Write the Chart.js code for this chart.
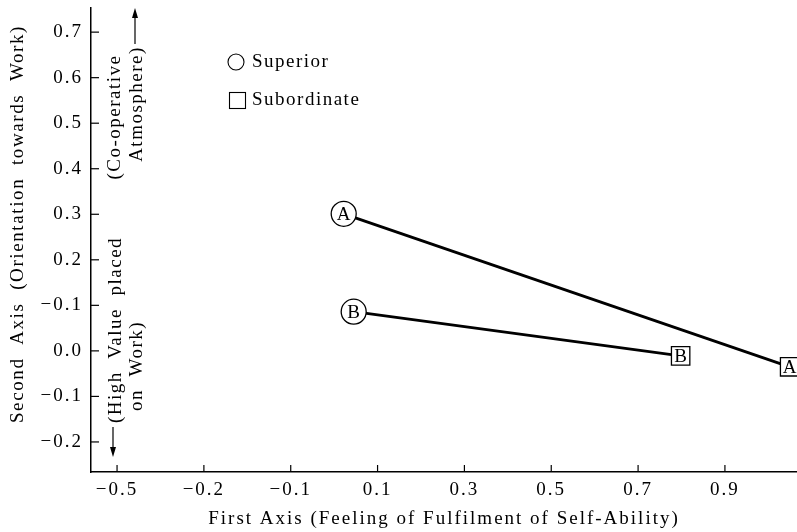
<!DOCTYPE html>
<html>
<head>
<meta charset="utf-8">
<script src="https://cdn.jsdelivr.net/npm/chart.js@4.4.0/dist/chart.umd.min.js"></script>
<style>
  html, body { margin: 0; padding: 0; background: #fff; }
  #wrap { width: 797px; height: 532px; }
</style>
</head>
<body>
<div id="wrap"><canvas id="myChart" width="797" height="532"></canvas></div>
<script>
const FONT = '"Liberation Serif", "DejaVu Serif", serif';

// data
const groups = ["A", "B"];
const superiorX = [0.022, 0.045];
const superiorY = [0.301, 0.086];
const subordinateX = [1.049, 0.798];
const subordinateY = [-0.035, -0.011];

// tick positions and the labels printed on them (as in the original print)
const xTicks = [-0.5, -0.3, -0.1, 0.1, 0.3, 0.5, 0.7, 0.9];
const xTickLabels = ["\u22120.5", "\u22120.2", "\u22120.1", "0.1", "0.3", "0.5", "0.7", "0.9"];
const yTicks = [-0.2, -0.1, 0.0, 0.1, 0.2, 0.3, 0.4, 0.5, 0.6, 0.7];
const yTickLabels = ["\u22120.2", "\u22120.1", "0.0", "\u22120.1", "0.2", "0.3", "0.4", "0.5", "0.6", "0.7"];

const ctx = document.getElementById("myChart").getContext("2d");

const datasets = groups.map((g, i) => ({
  label: g,
  data: [
    { x: superiorX[i], y: superiorY[i] },
    { x: subordinateX[i], y: subordinateY[i] },
  ],
  borderColor: "#000",
  borderWidth: 2.8,
  pointStyle: ["circle", "rect"],
  pointRadius: [12.5, 13],
  pointBackgroundColor: "#fff",
  pointBorderColor: "#000",
  pointBorderWidth: 1.3,
  clip: false,
}));

function spacedText(c, text, x, y, spacing) {
  c.letterSpacing = spacing + "px";
  c.fillText(text, x, y);
  c.letterSpacing = "0px";
}

// tick labels get no extra room: plot box is fixed
const noPad = (s) => {
  s.paddingLeft = s.paddingRight = s.paddingTop = s.paddingBottom = 0;
};

const extras = {
  id: "extras",
  beforeDraw(chart) {
    chart.ctx.letterSpacing = "2px";
  },
  afterDraw(chart) {
    const c = chart.ctx;
    const { x, y } = chart.scales;
    const area = chart.chartArea;
    c.save();
    c.letterSpacing = "0px";
    c.strokeStyle = "#000";
    c.lineWidth = 1.2;
    // inward tick marks
    xTicks.forEach((v) => {
      const px = x.getPixelForValue(v);
      c.beginPath();
      c.moveTo(px, area.bottom);
      c.lineTo(px, area.bottom - 7);
      c.stroke();
    });
    yTicks.forEach((v) => {
      const py = y.getPixelForValue(v);
      c.beginPath();
      c.moveTo(area.left, py);
      c.lineTo(area.left + 8, py);
      c.stroke();
    });

    // letters inside the markers
    c.fillStyle = "#000";
    c.font = "19px " + FONT;
    c.textAlign = "center";
    c.textBaseline = "middle";
    chart.data.datasets.forEach((ds, i) => {
      chart.getDatasetMeta(i).data.forEach((pt) => {
        c.fillText(ds.label, pt.x, pt.y + 1);
      });
    });

    // legend
    c.lineWidth = 1.1;
    c.beginPath();
    c.arc(236, 62, 8, 0, Math.PI * 2);
    c.stroke();
    c.strokeRect(229.5, 92.5, 16, 16);
    c.font = "19px " + FONT;
    c.textAlign = "left";
    spacedText(c, "Superior", 252, 62, 1.5);
    spacedText(c, "Subordinate", 252, 100, 1.5);

    // y axis title
    c.save();
    c.translate(18, 224);
    c.rotate(-Math.PI / 2);
    c.textAlign = "center";
    spacedText(c, "Second  Axis  (Orientation  towards  Work)", 0, 0, 1.6);
    c.restore();

    // rotated side notes
    const note = (text, cx, cy) => {
      c.save();
      c.translate(cx, cy);
      c.rotate(-Math.PI / 2);
      c.textAlign = "center";
      spacedText(c, text, 0, 0, 1.5);
      c.restore();
    };
    note("(Co-operative", 115, 117);
    note("Atmosphere)", 137, 104);
    note("(High  Value  placed", 116, 330);
    note("on  Work)", 137, 366);

    // arrows
    c.lineWidth = 1.2;
    c.beginPath();
    c.moveTo(135, 44);
    c.lineTo(135, 12);
    c.stroke();
    c.beginPath();
    c.moveTo(135, 8);
    c.lineTo(132, 18);
    c.lineTo(138, 18);
    c.closePath();
    c.fill();
    c.beginPath();
    c.moveTo(113, 427);
    c.lineTo(113, 452);
    c.stroke();
    c.beginPath();
    c.moveTo(113, 457);
    c.lineTo(110, 447);
    c.lineTo(116, 447);
    c.closePath();
    c.fill();
    c.restore();
  },
};

new Chart(ctx, {
  type: "line",
  data: { datasets },
  options: {
    responsive: false,
    animation: false,
    layout: { autoPadding: false, padding: { top: 8, right: 0, left: 0, bottom: 0 } },
    plugins: {
      legend: { display: false },
      tooltip: { enabled: false },
    },
    scales: {
      x: {
        type: "linear",
        min: -0.56,
        max: 1.066,
        afterBuildTicks: (s) => { s.ticks = xTicks.map((v) => ({ value: v })); },
        afterFit: (s) => { s.height = 60; noPad(s); },
        grid: { display: false, drawTicks: false },
        border: { display: true, color: "#000", width: 1.5 },
        ticks: {
          color: "#000",
          font: { family: FONT, size: 19 },
          padding: 7,
          maxRotation: 0,
          autoSkip: false,
          callback: (v, i) => xTickLabels[i],
        },
        title: {
          display: true,
          text: "First Axis (Feeling of Fulfilment of Self-Ability)",
          color: "#000",
          font: { family: FONT, size: 19 },
          padding: { top: 2, bottom: 2 },
        },
      },
      y: {
        type: "linear",
        min: -0.266,
        max: 0.753,
        afterBuildTicks: (s) => { s.ticks = yTicks.map((v) => ({ value: v })); },
        afterFit: (s) => { s.width = 91; noPad(s); },
        grid: { display: false, drawTicks: false },
        border: { display: true, color: "#000", width: 1.5 },
        ticks: {
          color: "#000",
          font: { family: FONT, size: 19 },
          padding: 8,
          autoSkip: false,
          callback: (v, i) => yTickLabels[i],
        },
      },
    },
  },
  plugins: [extras],
});
</script>
</body>
</html>
